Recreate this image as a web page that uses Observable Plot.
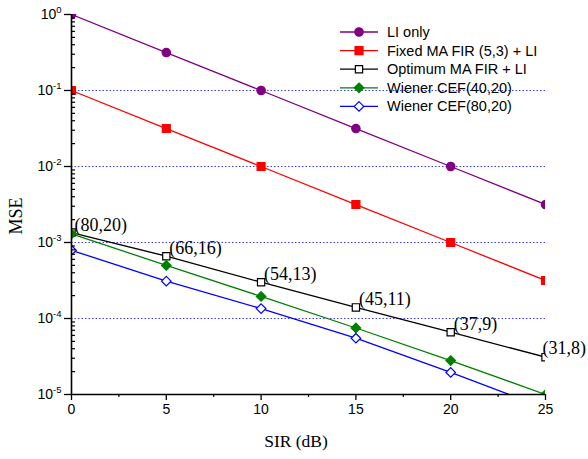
<!DOCTYPE html>
<html><head><meta charset="utf-8">
<script src="https://cdn.jsdelivr.net/npm/d3@7"></script>
<script src="https://cdn.jsdelivr.net/npm/@observablehq/plot@0.6"></script>
<style>
body{margin:0;background:#fff}
#wrap{position:relative;width:588px;height:459px;overflow:hidden}
#wrap svg{overflow:visible}
#legend{position:absolute;left:330px;top:20px}
</style>
</head><body><div id="wrap"></div>
<script>
// ---- data ----
const sir = [0, 5, 10, 15, 20, 25];
const liOnly = [1, 0.316, 0.1, 0.0316, 0.01, 0.00316];
const fixedMA = [0.1, 0.0316, 0.01, 0.00316, 0.001, 0.000316];
const optimumMA = [1.35e-3, 6.6e-4, 3.0e-4, 1.4e-4, 6.6e-5, 3.1e-5];
const wiener4020 = [1.3e-3, 5.0e-4, 1.95e-4, 7.5e-5, 2.8e-5, 1.0e-5];
const wiener8020 = [7.9e-4, 3.1e-4, 1.35e-4, 5.5e-5, 1.95e-5, 6.6e-6];
const optLabels = ["(80,20)", "(66,16)", "(54,13)", "(45,11)", "(37,9)", "(31,8)"];
const seriesNames = ["LI only", "Fixed MA FIR (5,3) + LI", "Optimum MA FIR + LI", "Wiener CEF(40,20)", "Wiener CEF(80,20)"];
const xMajor = [0, 5, 10, 15, 20, 25];
const xMinor = [2.5, 7.5, 12.5, 17.5, 22.5];
const yMajor = [1e-5, 1e-4, 1e-3, 1e-2, 1e-1, 1];
const yGrid = [1e-4, 1e-3, 1e-2, 1e-1];
const yMinor = [];
for (let e = -5; e < 0; e++) for (let m = 2; m <= 9; m++) yMinor.push(m * Math.pow(10, e));

// ---- styles ----
const series = [
  {name: seriesNames[0], y: liOnly, color: "#800080", symbol: "circle", fill: "#800080", r: 4.2},
  {name: seriesNames[1], y: fixedMA, color: "#ff0000", symbol: "square", fill: "#ff0000", r: 4.5},
  {name: seriesNames[2], y: optimumMA, color: "#000000", symbol: "square", fill: "#ffffff", r: 4.1},
  {name: seriesNames[3], y: wiener4020, color: "#008000", symbol: "diamond2", fill: "#008000", r: 4.3},
  {name: seriesNames[4], y: wiener8020, color: "#0000ff", symbol: "diamond2", fill: "#ffffff", r: 4.3}
];

const serif = "Liberation Serif, Times New Roman, serif";
const marks = [
  Plot.ruleY(yGrid, {stroke: "#3a3aff", strokeDasharray: "1.5,2", strokeWidth: 1})
];
for (const s of series) {
  marks.push(Plot.line(sir, {x: sir, y: s.y, stroke: s.color, strokeWidth: 1.3, clip: true}));
}
for (const s of series) {
  marks.push(Plot.dot(sir, {x: sir, y: s.y, symbol: s.symbol, r: s.r, fill: s.fill, stroke: s.color, strokeWidth: 1.2, clip: true}));
}
const lastIdx = sir.length - 1;
marks.push(
  Plot.text(sir, {filter: (d, i) => i < lastIdx, x: sir, y: optimumMA, text: optLabels, textAnchor: "start", lineAnchor: "bottom", dx: 3, dy: -2,
    fontFamily: serif, fontSize: 18, fill: "black"}),
  Plot.text(sir, {filter: (d, i) => i === lastIdx, x: sir, y: optimumMA, text: optLabels, textAnchor: "start", lineAnchor: "bottom", dx: -3, dy: -3,
    fontFamily: serif, fontSize: 18, fill: "black"}),
  Plot.axisX({ticks: xMajor, tickSize: 6, tickPadding: 4, tickFormat: d => String(d), label: null, fontSize: 14, strokeWidth: 1.3}),
  Plot.axisX({ticks: xMinor, tickSize: 3, text: null, label: null, strokeWidth: 1.2}),
  Plot.axisY({ticks: yMajor, tickSize: 7, tickPadding: 3, tickFormat: d => "10^" + Math.round(Math.log10(d)), label: null, fontSize: 14, strokeWidth: 1.3}),
  Plot.axisY({ticks: yMinor, tickSize: -4, text: null, label: null, strokeWidth: 1.2}),
  Plot.ruleX([0], {stroke: "black", strokeWidth: 1.6}),
  Plot.ruleY([1e-5], {stroke: "black", strokeWidth: 1.6})
);

const chart = Plot.plot({
  width: 588, height: 459,
  marginLeft: 71, marginRight: 43, marginTop: 14, marginBottom: 65,
  style: {fontFamily: "Liberation Sans, Arial, sans-serif", fontSize: "14px", color: "black", background: "white", overflow: "visible"},
  x: {domain: [0, 25]},
  y: {type: "log", domain: [1e-5, 1]},
  marks
});

const svg = d3.select(chart);
// superscript exponents on y tick labels
svg.selectAll("text").each(function () {
  const t = this.textContent || "";
  const m = t.match(/^10\^(.+)$/);
  if (!m) return;
  const s = d3.select(this);
  s.text(null);
  s.append("tspan").text("10");
  s.append("tspan").attr("dy", "-6").attr("font-size", "9.5px").text(m[1]);
});
// axis titles
svg.append("text").attr("x", 296).attr("y", 447).attr("text-anchor", "middle")
  .attr("font-family", serif).attr("font-size", 17.5).attr("fill", "black").text("SIR (dB)");
svg.append("text").attr("transform", "translate(22,216) rotate(-90)").attr("text-anchor", "middle")
  .attr("font-family", serif).attr("font-size", 18).attr("fill", "black").text("MSE");

const wrap = document.getElementById("wrap");
wrap.appendChild(chart);

// legend
const leg = d3.select(wrap).append("svg").attr("id", "legend").attr("width", 250).attr("height", 100);
const symMap = {circle: d3.symbolCircle, square: d3.symbolSquare, diamond2: d3.symbolDiamond2};
series.forEach((s, i) => {
  const y = 12 + i * 18.6;
  const g = leg.append("g").attr("transform", `translate(0,${y})`);
  g.append("line").attr("x1", 10).attr("x2", 48).attr("stroke", s.color).attr("stroke-width", 1.3);
  g.append("path").attr("transform", "translate(29,0)")
    .attr("d", d3.symbol(symMap[s.symbol], Math.PI * s.r * s.r)())
    .attr("fill", s.fill).attr("stroke", s.color).attr("stroke-width", 1.2);
  g.append("text").attr("x", 57).attr("dy", "0.35em").attr("font-family", "Liberation Sans, Arial, sans-serif")
    .attr("font-size", 14.5).attr("fill", "black").text(s.name);
});
</script>
</body></html>
